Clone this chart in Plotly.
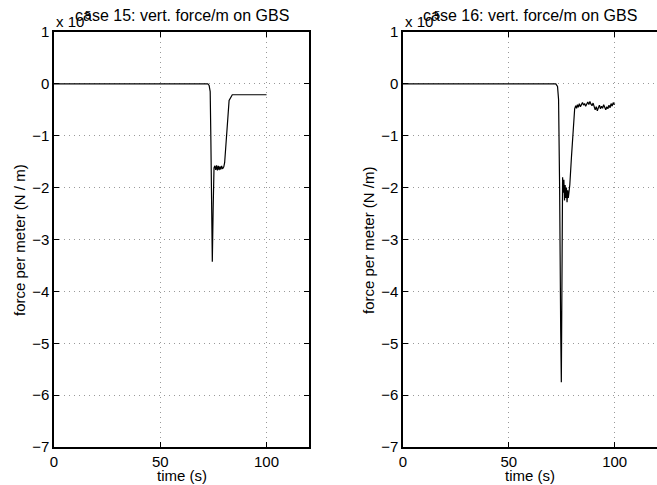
import plotly.graph_objects as go

# ---- data ----
t15 = [0, 72.4, 73.0, 73.5, 73.8, 74.1, 74.5, 74.9, 75.3, 75.7, 76.1, 76.5, 76.9, 77.3,
       77.7, 78.1, 78.5, 78.9, 79.3, 79.9, 80.3, 82.4, 83.2, 83.9, 100]
f15 = [0, 0, -0.03, -0.15, -1.0, -2.8, -3.43, -2.4, -1.62, -1.58, -1.66, -1.57, -1.67, -1.58,
       -1.66, -1.59, -1.65, -1.58, -1.64, -1.60, -1.52, -0.32, -0.25, -0.21, -0.21]

t16 = [0, 72.2, 73.0, 73.5, 74.0, 74.3, 74.5, 74.8, 75.1, 75.4, 75.7, 76.0, 76.3, 76.6,
       76.9, 77.2, 77.5, 77.8, 78.1, 78.4, 78.8, 79.6, 80.3, 81.1,
       81.6, 82.0, 82.4, 82.8, 83.3, 83.8, 84.3, 84.8, 85.3, 85.8, 86.3, 86.8, 87.3,
       87.8, 88.3, 88.8, 89.3, 89.8, 90.3, 90.8, 91.3, 91.8, 92.3, 92.8, 93.3, 93.8,
       94.3, 94.8, 95.3, 95.8, 96.3, 96.8, 97.3, 97.8, 98.3, 98.8, 99.3, 99.8, 100]
f16 = [0, 0, -0.05, -0.3, -2.0, -4.6, -4.75, -5.75, -3.5, -1.8, -2.1, -1.85, -2.25, -1.95,
       -2.2, -2.0, -2.28, -2.05, -2.2, -2.1, -1.95, -1.4, -0.9, -0.48,
       -0.42, -0.47, -0.40, -0.45, -0.38, -0.44, -0.40, -0.36, -0.41, -0.38, -0.43, -0.37, -0.35,
       -0.40, -0.34, -0.39, -0.42, -0.37, -0.45, -0.50, -0.44, -0.52, -0.46, -0.41, -0.48, -0.43,
       -0.47, -0.40, -0.45, -0.50, -0.44, -0.48, -0.41, -0.46, -0.38, -0.43, -0.36, -0.40, -0.38]

x_ticks = [0, 50, 100]
y_ticks = [1, 0, -1, -2, -3, -4, -5, -6, -7]
titles = ["case 15: vert. force/m on GBS", "case 16: vert. force/m on GBS"]
ylabels = ["force per meter (N / m)", "force per meter (N /m)"]
xlabel = "time (s)"
exponent = "5"

W, H = 657, 485
FONT = "Liberation Sans, Arial, Helvetica, sans-serif"
FS = 15

def px(x):
    return x / W

def py(y):
    return 1 - y / H

fig = go.Figure()
fig.add_trace(go.Scatter(x=t15, y=f15, mode="lines", line=dict(color="black", width=1.2),
                         xaxis="x", yaxis="y", showlegend=False))
fig.add_trace(go.Scatter(x=t16, y=f16, mode="lines", line=dict(color="black", width=1.2),
                         xaxis="x2", yaxis="y2", showlegend=False))

ydom = [py(447), py(32)]
common_x = dict(range=[0, 120], tickvals=x_ticks, ticks="inside", ticklen=5, tickcolor="black",
                showline=True, linecolor="black", linewidth=1.5, mirror="ticks",
                showgrid=True, gridcolor="#999999", griddash="1px,4px", gridwidth=1,
                zeroline=False, tickfont=dict(family=FONT, size=FS, color="black"),
                automargin=False)
common_y = dict(range=[-7, 1], tickvals=y_ticks, ticks="inside", ticklen=5, tickcolor="black",
                showline=True, linecolor="black", linewidth=1.5,
                showgrid=True, gridcolor="#999999", griddash="1px,4px", gridwidth=1,
                zeroline=False, tickfont=dict(family=FONT, size=FS, color="black"),
                automargin=False)

fig.update_layout(
    width=W, height=H, margin=dict(l=0, r=0, t=0, b=0),
    paper_bgcolor="white", plot_bgcolor="white",
    font=dict(family=FONT, size=FS, color="black"),
    xaxis=dict(domain=[px(54), px(309)], anchor="y", **common_x),
    yaxis=dict(domain=ydom, anchor="x", mirror="ticks", **common_y),
    xaxis2=dict(domain=[px(403), 1.0], anchor="y2", **common_x),
    yaxis2=dict(domain=ydom, anchor="x2", mirror=False, **common_y),
)

anns = []
for i, (xl, xr) in enumerate([(54, 309), (403, 657)]):
    cx = (xl + xr) / 2
    anns.append(dict(text=titles[i], x=px(cx), y=py(16), xref="paper", yref="paper",
                     xanchor="center", yanchor="middle", showarrow=False,
                     font=dict(family=FONT, size=16, color="black")))
    anns.append(dict(text="x 10", x=px(xl), y=py(22), xref="paper", yref="paper",
                     xanchor="left", yanchor="middle", showarrow=False,
                     font=dict(family=FONT, size=FS, color="black")))
    anns.append(dict(text=exponent, x=px(xl + 29), y=py(15), xref="paper", yref="paper",
                     xanchor="left", yanchor="middle", showarrow=False,
                     font=dict(family=FONT, size=11, color="black")))
    anns.append(dict(text=xlabel, x=px(cx), y=py(475), xref="paper", yref="paper",
                     xanchor="center", yanchor="middle", showarrow=False,
                     font=dict(family=FONT, size=FS, color="black")))
    anns.append(dict(text=ylabels[i], x=px(xl - 35), y=py(240), xref="paper", yref="paper",
                     xanchor="center", yanchor="middle", showarrow=False, textangle=-90,
                     font=dict(family=FONT, size=FS, color="black")))
fig.update_layout(annotations=anns)

fig.write_html("out.html")
